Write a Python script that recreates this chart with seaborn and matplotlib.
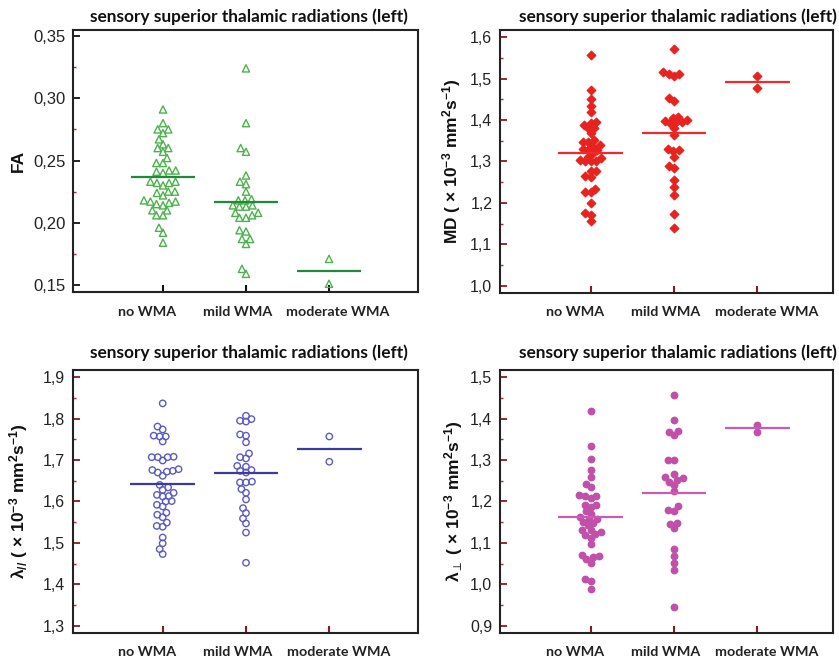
import numpy as np
import pandas as pd
import matplotlib
matplotlib.use("Agg")
import matplotlib.pyplot as plt
import matplotlib.ticker as mticker
import seaborn as sns

# group names and titles
groups = ["no WMA", "mild WMA", "moderate WMA"]
title_text = "sensory superior thalamic radiations (left)"

# FA values
fa_no = [0.291, 0.280, 0.275, 0.275, 0.272, 0.267, 0.263, 0.260, 0.260, 0.257,
         0.252, 0.248, 0.248, 0.242, 0.242, 0.241, 0.240, 0.233, 0.233, 0.232,
         0.232, 0.230, 0.225, 0.225, 0.224, 0.222, 0.218, 0.217, 0.217, 0.216,
         0.215, 0.214, 0.210, 0.210, 0.206, 0.206, 0.196, 0.192, 0.184]
fa_mild = [0.324, 0.280, 0.260, 0.257, 0.238, 0.233, 0.231, 0.225, 0.219, 0.218,
           0.218, 0.214, 0.214, 0.213, 0.213, 0.208, 0.208, 0.206, 0.204, 0.204,
           0.194, 0.193, 0.187, 0.187, 0.183, 0.163, 0.159]
fa_mod = [0.171, 0.151]
fa_mean = [0.2365, 0.2170, 0.1613]

# MD values
md_no = [1.557, 1.473, 1.450, 1.433, 1.419, 1.395, 1.392, 1.388, 1.380, 1.380,
         1.368, 1.352, 1.348, 1.348, 1.340, 1.338, 1.330, 1.328, 1.328, 1.320,
         1.312, 1.308, 1.304, 1.300, 1.300, 1.300, 1.278, 1.278, 1.266, 1.263,
         1.234, 1.227, 1.226, 1.199, 1.175, 1.171, 1.156]
md_mild = [1.571, 1.517, 1.511, 1.511, 1.507, 1.453, 1.446, 1.408, 1.406, 1.400,
           1.399, 1.396, 1.395, 1.392, 1.382, 1.364, 1.330, 1.328, 1.325, 1.312,
           1.288, 1.284, 1.255, 1.238, 1.219, 1.173, 1.139]
md_mod = [1.507, 1.477]
md_mean = [1.321, 1.368, 1.491]

# axial diffusivity
lp_no = [1.837, 1.781, 1.774, 1.759, 1.757, 1.757, 1.745, 1.708, 1.707, 1.707,
         1.707, 1.699, 1.678, 1.676, 1.674, 1.672, 1.670, 1.662, 1.640, 1.634,
         1.628, 1.621, 1.616, 1.613, 1.612, 1.601, 1.600, 1.592, 1.588, 1.573,
         1.568, 1.562, 1.549, 1.541, 1.539, 1.513, 1.499, 1.485, 1.473]
lp_mild = [1.807, 1.799, 1.795, 1.793, 1.762, 1.759, 1.743, 1.716, 1.707, 1.704,
           1.686, 1.684, 1.676, 1.674, 1.670, 1.648, 1.646, 1.646, 1.630, 1.621,
           1.605, 1.584, 1.572, 1.559, 1.547, 1.525, 1.452]
lp_mod = [1.757, 1.696]
lp_mean = [1.642, 1.668, 1.726]

# radial diffusivity
lt_no = [1.419, 1.333, 1.303, 1.276, 1.258, 1.242, 1.234, 1.216, 1.214, 1.214,
         1.208, 1.192, 1.192, 1.186, 1.176, 1.170, 1.163, 1.158, 1.157, 1.151,
         1.147, 1.143, 1.131, 1.131, 1.126, 1.122, 1.119, 1.113, 1.097, 1.071,
         1.068, 1.065, 1.060, 1.052, 1.012, 1.007, 0.988]
lt_mild = [1.457, 1.397, 1.371, 1.367, 1.361, 1.300, 1.300, 1.267, 1.258, 1.256,
           1.252, 1.248, 1.240, 1.226, 1.188, 1.180, 1.178, 1.147, 1.146, 1.135,
           1.085, 1.068, 1.051, 1.035, 0.946]
lt_mod = [1.385, 1.369]
lt_mean = [1.163, 1.220, 1.377]

sns.set_theme(style="white")
plt.rcParams["font.family"] = ["Liberation Sans", "DejaVu Sans"]
plt.rcParams["mathtext.fontset"] = "custom"
plt.rcParams["mathtext.rm"] = "Liberation Sans:bold"
plt.rcParams["mathtext.it"] = "Liberation Sans:bold"
plt.rcParams["mathtext.bf"] = "Liberation Sans:bold"
plt.rcParams["mathtext.default"] = "rm"

W, H = 839, 661
fig = plt.figure(figsize=(W / 100, H / 100), dpi=100)


def add_ax(l, r, t, b):
    return fig.add_axes([l / W, 1 - b / H, (r - l) / W, (b - t) / H])


# labels sit a little off their ticks in the original
label_shift = [-0.19, -0.10, 0.11]

panels = [
    dict(box=(73, 418, 30, 292), vals=[fa_no, fa_mild, fa_mod], mean=fa_mean,
         ylim=(0.1444, 0.3548), step=0.05, fmt="{:.2f}", xlim=(-1.084, 3.072),
         ylabel="FA", marker="^", size=5.2, color="#4cb24c", line="#1f8a3a",
         hollow=True, tick="#111111", minor="#cc2222", tsize=12,
         lab_x=-0.136, title_x=0.509, pad=5.5),
    dict(box=(500, 833, 30, 292.7), vals=[md_no, md_mild, md_mod], mean=md_mean,
         ylim=(0.9831, 1.6176), step=0.1, fmt="{:.1f}", xlim=(-1.089, 2.909),
         ylabel=r"MD ( × 10$^{-3}$ mm$^{2}$s$^{-1}$)", marker="D", size=4.3,
         color="#e8231f", line="#ee2a2a", hollow=False, tick="#8b1a1a",
         minor="#cc2222", tsize=11.5, lab_x=-0.111, title_x=0.535, pad=5.5),
    dict(box=(72.7, 418.3, 370, 632.7), vals=[lp_no, lp_mild, lp_mod], mean=lp_mean,
         ylim=(1.2831, 1.9176), step=0.1, fmt="{:.1f}", xlim=(-1.08, 3.068),
         ylabel=r"λ$_{//}$ ( × 10$^{-3}$ mm$^{2}$s$^{-1}$)", marker="o", size=4.6,
         color="#5a5ac4", line="#3a3aa2", hollow=True, tick="#8b1a1a",
         minor="#cc2222", tsize=11.5, lab_x=-0.124, title_x=0.509, pad=8.5),
    dict(box=(500, 833, 370, 632.7), vals=[lt_no, lt_mild, lt_mod], mean=lt_mean,
         ylim=(0.8831, 1.5176), step=0.1, fmt="{:.1f}", xlim=(-1.089, 2.909),
         ylabel=r"λ$_{\perp}$ ( × 10$^{-3}$ mm$^{2}$s$^{-1}$)", marker="o", size=4.6,
         color="#c150a9", line="#c65cb6", hollow=False, tick="#8b1a1a",
         minor="#cc2222", tsize=11.5, lab_x=-0.105, title_x=0.535, pad=8.5),
]

for p in panels:
    ax = add_ax(*p["box"])
    df = pd.DataFrame({
        "group": np.repeat(groups, [len(v) for v in p["vals"]]),
        "value": np.concatenate(p["vals"]),
    })
    # lay the swarm out with a smaller footprint so markers overlap a bit,
    # like the original dot plot
    sns.swarmplot(data=df, x="group", y="value", order=groups, ax=ax,
                  marker=p["marker"], size=p["size"] * 0.68, color=p["color"],
                  edgecolor=p["color"], linewidth=1.0, warn_thresh=1)
    swarm = list(ax.collections)

    xs = np.arange(len(groups))
    ax.hlines(p["mean"], xs - 0.39, xs + 0.39, color=p["line"], lw=1.6, zorder=3)

    ax.set_xlim(*p["xlim"])
    ax.set_ylim(*p["ylim"])
    fig.canvas.draw()
    for coll in swarm:
        if "draw" in coll.__dict__:
            del coll.__dict__["draw"]
        coll.set_sizes([p["size"] ** 2])
        if p["hollow"]:
            coll.set_facecolor("none")
            coll.set_edgecolor(p["color"])
            coll.set_linewidth(1.0)

    ax.yaxis.set_major_locator(mticker.MultipleLocator(p["step"]))
    ax.yaxis.set_minor_locator(mticker.MultipleLocator(p["step"] / 2))
    fmt = p["fmt"]
    ax.yaxis.set_major_formatter(
        mticker.FuncFormatter(lambda v, pos, f=fmt: f.format(v).replace(".", ",")))
    ax.tick_params(axis="y", which="major", direction="in", length=5, width=1.3,
                   color=p["tick"], pad=5.5, labelsize=p["tsize"], labelcolor="#222222",
                   left=True)
    ax.tick_params(axis="y", which="minor", direction="in", length=2.5, width=1.0,
                   color=p["minor"], left=True)
    ax.set_xticks(xs)
    ax.set_xticklabels([])
    ax.tick_params(axis="x", which="major", direction="in", length=5, width=1.5,
                   color=p["tick"], bottom=True)
    for x, name, dx in zip(xs, groups, label_shift):
        ax.text(x + dx, -0.075, name, transform=ax.get_xaxis_transform(),
                ha="center", va="center", fontfamily="Lato", fontweight="bold",
                fontsize=10.3, color="#222222")

    for s in ax.spines.values():
        s.set_visible(True)
        s.set_color("#222222")
        s.set_linewidth(1.5)

    ax.set_xlabel("")
    ax.set_ylabel(p["ylabel"], fontfamily="Liberation Sans", fontweight="bold",
                  fontsize=12.5, color="#111111")
    ax.yaxis.set_label_coords(p["lab_x"], 0.5)
    ax.set_title(title_text, fontfamily="Lato", fontweight="bold", fontsize=12.4,
                 x=p["title_x"], pad=p["pad"], color="#111111")

fig.savefig("out.png", dpi=100)
